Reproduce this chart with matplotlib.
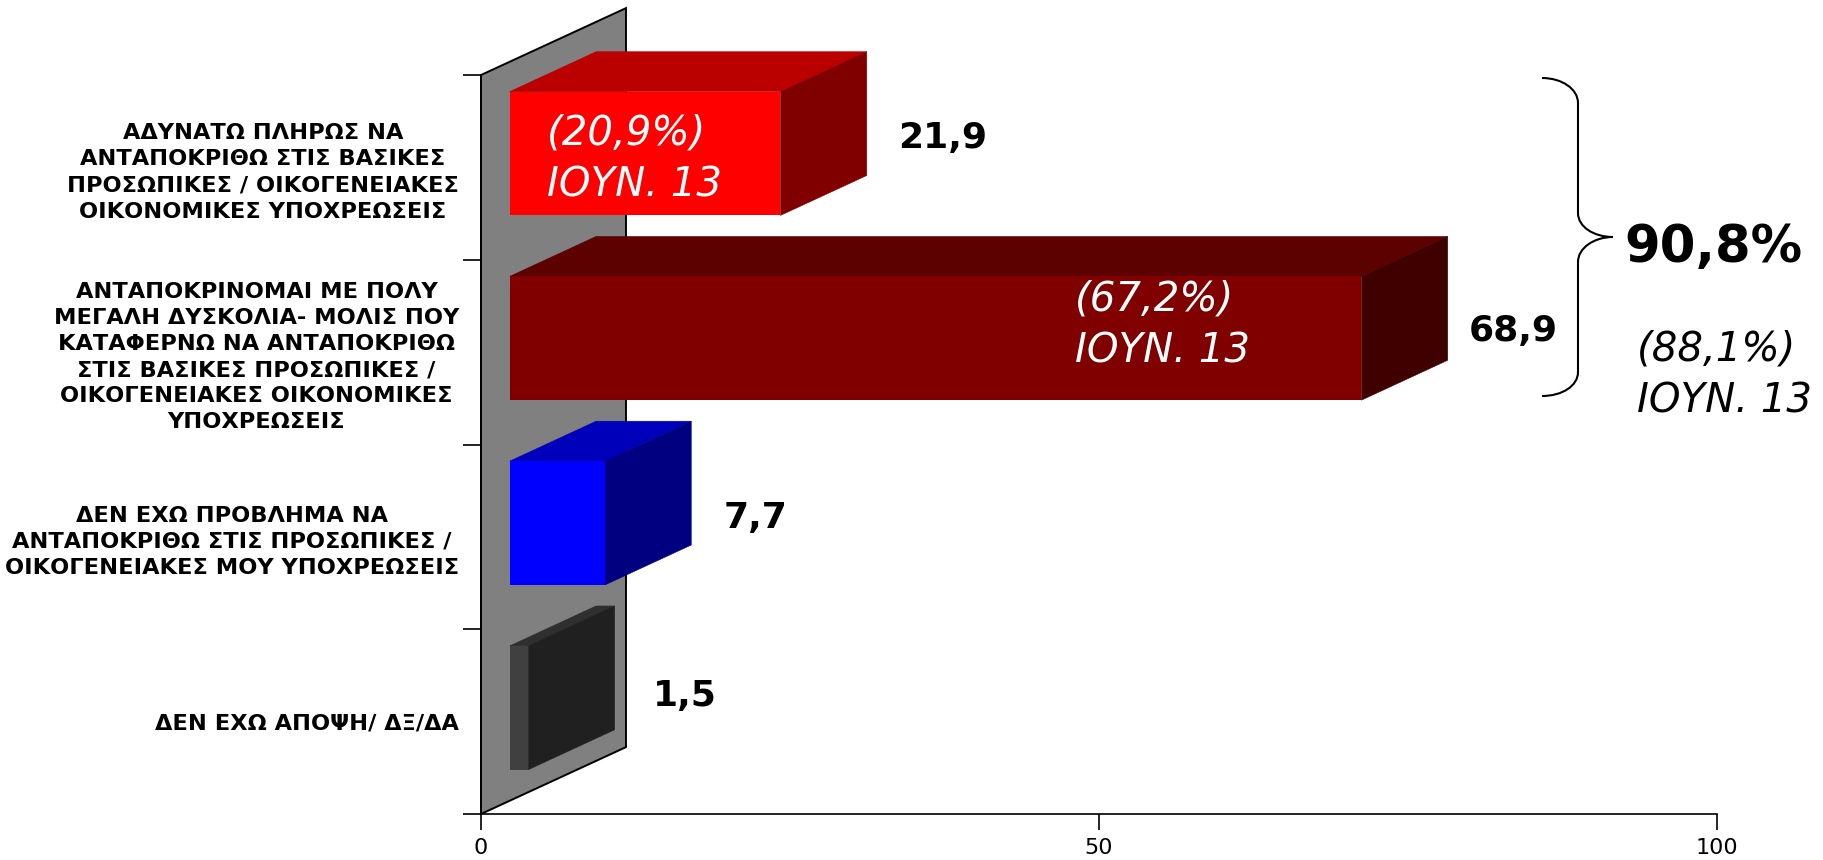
import matplotlib
matplotlib.use("Agg")
import matplotlib.pyplot as plt
from matplotlib.patches import Polygon, PathPatch
from matplotlib.path import Path

W, H = 1823, 860

categories = [
    "ΑΔΥΝΑΤΩ ΠΛΗΡΩΣ ΝΑ\nΑΝΤΑΠΟΚΡΙΘΩ ΣΤΙΣ ΒΑΣΙΚΕΣ\nΠΡΟΣΩΠΙΚΕΣ / ΟΙΚΟΓΕΝΕΙΑΚΕΣ\nΟΙΚΟΝΟΜΙΚΕΣ ΥΠΟΧΡΕΩΣΕΙΣ",
    "ΑΝΤΑΠΟΚΡΙΝΟΜΑΙ ΜΕ ΠΟΛΥ\nΜΕΓΑΛΗ ΔΥΣΚΟΛΙΑ- ΜΟΛΙΣ ΠΟΥ\nΚΑΤΑΦΕΡΝΩ ΝΑ ΑΝΤΑΠΟΚΡΙΘΩ\nΣΤΙΣ ΒΑΣΙΚΕΣ ΠΡΟΣΩΠΙΚΕΣ /\nΟΙΚΟΓΕΝΕΙΑΚΕΣ ΟΙΚΟΝΟΜΙΚΕΣ\nΥΠΟΧΡΕΩΣΕΙΣ",
    "ΔΕΝ ΕΧΩ ΠΡΟΒΛΗΜΑ ΝΑ\nΑΝΤΑΠΟΚΡΙΘΩ ΣΤΙΣ ΠΡΟΣΩΠΙΚΕΣ /\nΟΙΚΟΓΕΝΕΙΑΚΕΣ ΜΟΥ ΥΠΟΧΡΕΩΣΕΙΣ",
    "ΔΕΝ ΕΧΩ ΑΠΟΨΗ/ ΔΞ/ΔΑ",
]
values = [21.9, 68.9, 7.7, 1.5]
value_labels = ["21,9", "68,9", "7,7", "1,5"]
x_ticks = [0, 50, 100]

front_colors = ["#ff0000", "#800000", "#0000ff", "#404040"]
top_colors = ["#bb0000", "#5c0000", "#0000bb", "#2f2f2f"]
side_colors = ["#800000", "#400000", "#000080", "#202020"]
label_gaps = [2.53, 1.68, 2.58, 3.13]

fig = plt.figure(figsize=(W / 100, H / 100), dpi=100, facecolor="white")
plt.rcParams["font.family"] = ["DejaVu Sans"]


def fx(x):
    return x / W


def fy(y):
    return 1 - y / H


ax = fig.add_axes([fx(481), fy(814), fx(1717) - fx(481), (814 - 75) / H])
ax.set_xlim(0, 100)
ax.set_ylim(4, 0)
ax.patch.set_alpha(0)
for s in ("top", "right"):
    ax.spines[s].set_visible(False)
for s in ("left", "bottom"):
    ax.spines[s].set_linewidth(1.2)
    ax.spines[s].set_zorder(5)

# 3-D projection constants, in data units
WALL_DX, WALL_DY = 11.73, 0.362
BAR_DX, BAR_DY = 6.98, 0.216
BAR_LEFT, BAR_H, BAR_SHIFT = 2.33, 0.67, 0.075

ax.add_patch(Polygon([(0, 0), (WALL_DX, -WALL_DY), (WALL_DX, 4 - WALL_DY), (0, 4)],
                     closed=True, facecolor="#808080", edgecolor="black",
                     linewidth=1.4, clip_on=False, zorder=1))

for i, v in enumerate(values):
    yc = i + 0.5 - BAR_SHIFT
    y0, y1 = yc - BAR_H / 2, yc + BAR_H / 2
    x0, x1 = BAR_LEFT, BAR_LEFT + v
    ax.barh(yc, v, height=BAR_H, left=BAR_LEFT, color=front_colors[i],
            linewidth=0, zorder=3, clip_on=False)
    ax.add_patch(Polygon([(x0, y0), (x0 + BAR_DX, y0 - BAR_DY), (x1 + BAR_DX, y0 - BAR_DY), (x1, y0)],
                         closed=True, facecolor=top_colors[i], edgecolor=top_colors[i],
                         linewidth=0.4, clip_on=False, zorder=2))
    ax.add_patch(Polygon([(x1, y0), (x1 + BAR_DX, y0 - BAR_DY), (x1 + BAR_DX, y1 - BAR_DY), (x1, y1)],
                         closed=True, facecolor=side_colors[i], edgecolor=side_colors[i],
                         linewidth=0.4, clip_on=False, zorder=2))

label_y = [138, 331, 518, 696]
for i, v in enumerate(values):
    ax.text(BAR_LEFT + v + BAR_DX + label_gaps[i], (label_y[i] - 75) / 184.75, value_labels[i],
            ha="left", va="center", fontsize=26, fontweight="bold", color="black",
            zorder=6, clip_on=False)

ax.set_xticks(x_ticks)
ax.set_xticklabels([str(t) for t in x_ticks], fontsize=16)
ax.tick_params(axis="x", length=11.5, width=1.2, pad=6)
ax.set_yticks(range(5))
ax.set_yticklabels([])
ax.tick_params(axis="y", which="major", length=13, width=1.2)
ax.set_yticks([i + 0.5 for i in range(4)], categories, minor=True)
ax.tick_params(axis="y", which="minor", length=0, pad=15.8, labelsize=16.2)
for t in ax.get_yticklabels(minor=True):
    t.set_fontweight("bold")
    t.set_multialignment("center")
    t.set_linespacing(1.38)

# Overlay annotations
fig.text(fx(547), fy(159), "(20,9%)\nΙΟΥΝ. 13", color="white", style="italic",
         fontsize=29, ha="left", va="center", linespacing=1.39, zorder=10)
fig.text(fx(1075), fy(325), "(67,2%)\nΙΟΥΝ. 13", color="white", style="italic",
         fontsize=29, ha="left", va="center", linespacing=1.39, zorder=10)
fig.text(fx(1713), fy(248), "90,8%", color="black", fontweight="bold",
         fontsize=37, ha="center", va="center")
fig.text(fx(1637), fy(375), "(88,1%)\nΙΟΥΝ. 13", color="black", style="italic",
         fontsize=29, ha="left", va="center", linespacing=1.39)

P = [(1542, 78), (1562, 78), (1578, 89), (1578, 103), (1578, 213),
     (1578, 227), (1594, 237), (1613, 237),
     (1594, 237), (1578, 248), (1578, 262), (1578, 372),
     (1578, 386), (1562, 396), (1542, 396)]
verts = [(fx(x), fy(y)) for x, y in P]
codes = [Path.MOVETO, Path.CURVE4, Path.CURVE4, Path.CURVE4, Path.LINETO,
         Path.CURVE4, Path.CURVE4, Path.CURVE4,
         Path.CURVE4, Path.CURVE4, Path.CURVE4, Path.LINETO,
         Path.CURVE4, Path.CURVE4, Path.CURVE4]
fig.add_artist(PathPatch(Path(verts, codes), transform=fig.transFigure, fill=False,
                         edgecolor="black", linewidth=1.5))

fig.savefig("out.png", dpi=100, facecolor="white")
